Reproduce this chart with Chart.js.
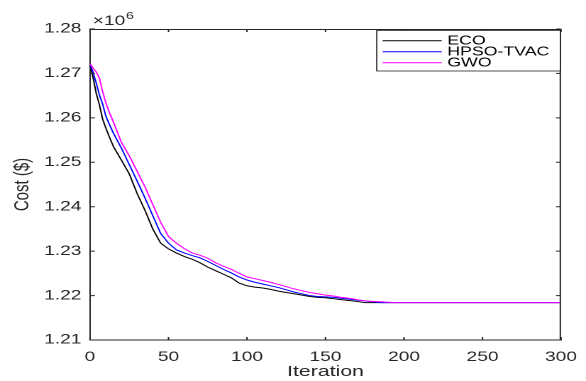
<!DOCTYPE html>
<html><head><meta charset="utf-8">
<script src="https://cdn.jsdelivr.net/npm/chart.js@4.4.0/dist/chart.umd.min.js"></script>
<style>
html,body{margin:0;padding:0;background:#fff;overflow:hidden;}
#wrap{width:413px;height:381px;transform:scaleX(1.41889);transform-origin:0 0;}
</style></head><body>
<div id="wrap"><canvas id="c" width="413" height="381"></canvas></div>
<script>
// ---- data ----
const iterations = [0,2,4,6,8,10,12,15,20,25,30,35,40,45,50,55,60,65,70,75,80,85,90,95,100,105,110,115,120,125,130,135,140,145,150,155,160,165,170,175,180,185,190,195,200,300];
const ecoCost = [1.2722,1.2690,1.2655,1.2630,1.2598,1.2578,1.2560,1.2535,1.2505,1.2474,1.2430,1.2392,1.2350,1.2318,1.2305,1.2296,1.2288,1.2282,1.2274,1.2264,1.2256,1.2248,1.2240,1.2228,1.2222,1.2219,1.2217,1.2214,1.2210,1.2207,1.2204,1.2201,1.2198,1.2196,1.2195,1.2193,1.2191,1.2189,1.2187,1.2184,1.2184,1.2184,1.2184,1.2184,1.2184,1.2184];
const hpsoCost = [1.2722,1.2702,1.2678,1.2652,1.2632,1.2605,1.2588,1.2565,1.2532,1.2495,1.2458,1.2420,1.2380,1.2340,1.2318,1.2303,1.2296,1.2290,1.2285,1.2277,1.2268,1.2259,1.2251,1.2242,1.2235,1.2230,1.2226,1.2222,1.2218,1.2213,1.2208,1.2204,1.2200,1.2198,1.2197,1.2196,1.2194,1.2192,1.2190,1.2188,1.2186,1.2184,1.2184,1.2184,1.2184,1.2184];
const gwoCost = [1.2722,1.2712,1.2703,1.2690,1.2660,1.2635,1.2615,1.2590,1.2545,1.2515,1.2480,1.2445,1.2405,1.2365,1.2333,1.2318,1.2306,1.2296,1.2291,1.2284,1.2274,1.2266,1.2259,1.2250,1.2242,1.2238,1.2234,1.2230,1.2225,1.2220,1.2215,1.2211,1.2207,1.2204,1.2201,1.2199,1.2196,1.2194,1.2191,1.2188,1.2187,1.2186,1.2185,1.2184,1.2184,1.2184];
const seriesNames = ['ECO','HPSO-TVAC','GWO'];
const xTicks = [0,50,100,150,200,250,300];
const yTicks = [1.21,1.22,1.23,1.24,1.25,1.26,1.27,1.28];

const AX = '#262626';
const FONT = "'Liberation Sans', Arial, Helvetica, sans-serif";

function pts(vals){ return iterations.map((x,i)=>({x:x, y:vals[i]})); }

const boxTicks = {
  id:'boxTicks',
  afterDatasetsDraw(chart){
    const {ctx, chartArea:a, scales:{x,y}} = chart;
    ctx.save();
    ctx.strokeStyle = AX; ctx.lineWidth = 1;
    ctx.beginPath();
    ctx.moveTo(a.left, a.top+0.5); ctx.lineTo(a.right, a.top+0.5);
    ctx.moveTo(a.right-0.5, a.top); ctx.lineTo(a.right-0.5, a.bottom);
    xTicks.forEach(v=>{
      const px = x.getPixelForValue(v);
      ctx.moveTo(px, a.bottom); ctx.lineTo(px, a.bottom-3);
      ctx.moveTo(px, a.top); ctx.lineTo(px, a.top+3);
    });
    yTicks.forEach(v=>{
      const py = y.getPixelForValue(v);
      ctx.moveTo(a.left, py); ctx.lineTo(a.left+3.5, py);
      ctx.moveTo(a.right, py); ctx.lineTo(a.right-3.5, py);
    });
    ctx.stroke();
    // exponent label
    ctx.fillStyle = AX;
    ctx.textBaseline = 'alphabetic';
    ctx.textAlign = 'left';
    ctx.font = "13.5px " + FONT;
    ctx.fillText('\u00d710', a.left+2, 25);
    const w = ctx.measureText('\u00d710').width;
    ctx.font = "10px " + FONT;
    ctx.fillText('6', a.left+2+w+0.5, 19);
    // legend
    const L = 265.5, T = 30.5, R = a.right-0.5, B = 71;
    ctx.fillStyle = '#fff';
    ctx.fillRect(L, T, R-L, B-T);
    ctx.strokeStyle = AX; ctx.lineWidth = 0.8;
    ctx.strokeRect(L, T, R-L, B-T);
    const rows = [40.7, 51.7, 62.7];
    chart.data.datasets.forEach((ds,i)=>{
      ctx.strokeStyle = ds.borderColor; ctx.lineWidth = 1;
      ctx.beginPath(); ctx.moveTo(269.7, rows[i]); ctx.lineTo(311.3, rows[i]); ctx.stroke();
      ctx.fillStyle = '#000';
      ctx.font = "12.5px " + FONT;
      ctx.textBaseline = 'middle';
      ctx.fillText(ds.label, 315.2, rows[i]+0.5);
    });
    ctx.restore();
  }
};

new Chart(document.getElementById('c'), {
  type:'line',
  data:{
    datasets:[
      {label:seriesNames[0], data:pts(ecoCost), borderColor:'#000000', borderWidth:1, pointRadius:0, tension:0, order:3},
      {label:seriesNames[1], data:pts(hpsoCost), borderColor:'#0000ff', borderWidth:1, pointRadius:0, tension:0, order:2},
      {label:seriesNames[2], data:pts(gwoCost), borderColor:'#ff00ff', borderWidth:1, pointRadius:0, tension:0, order:1}
    ]
  },
  options:{
    responsive:false, animation:false, devicePixelRatio:2,
    layout:{padding:{left:0, right:17.6, top:29, bottom:0}},
    plugins:{legend:{display:false}, tooltip:{enabled:false}, title:{display:false}},
    scales:{
      x:{
        type:'linear', min:0, max:300,
        afterBuildTicks:s=>{ s.ticks = xTicks.map(v=>({value:v})); },
        afterFit:s=>{ s.height = 41; },
        grid:{display:true, drawOnChartArea:false, drawTicks:true, tickLength:5, tickColor:'rgba(0,0,0,0)'},
        border:{display:true, color:AX, width:1},
        ticks:{color:AX, font:{family:FONT, size:13.5}, padding:4, maxRotation:0, autoSkip:false},
        title:{display:true, text:'Iteration', color:AX, font:{family:FONT, size:15}, padding:{top:0,bottom:0}}
      },
      y:{
        type:'linear', min:1.21, max:1.28,
        afterBuildTicks:s=>{ s.ticks = yTicks.map(v=>({value:v})); },
        afterFit:s=>{ s.width = 63.4; },
        grid:{display:true, drawOnChartArea:false, drawTicks:false},
        border:{display:true, color:AX, width:1},
        ticks:{color:AX, font:{family:FONT, size:13.5}, padding:6, callback:v=>v.toFixed(2)},
        title:{display:true, text:'Cost ($)', color:AX, font:{family:FONT, size:15}, padding:{top:7,bottom:0}}
      }
    }
  },
  plugins:[boxTicks]
});
</script>
</body></html>
